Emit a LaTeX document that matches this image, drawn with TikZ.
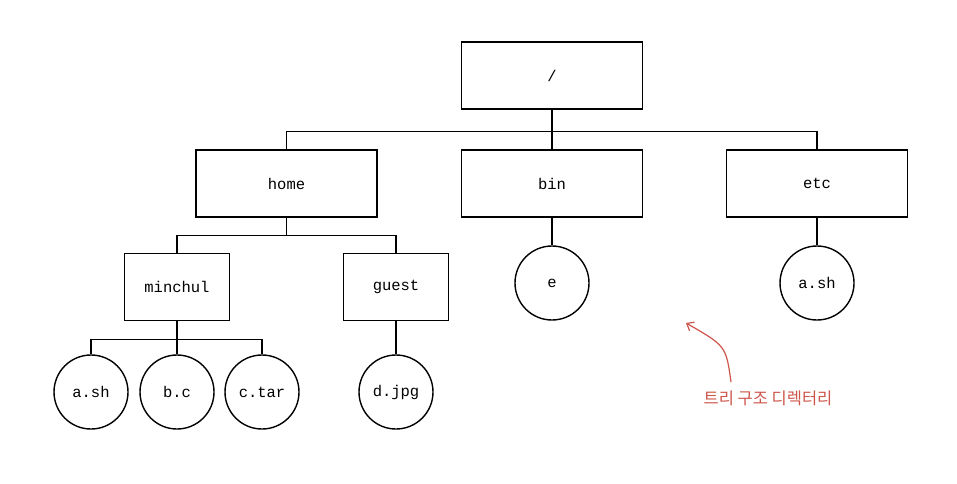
\documentclass[tikz,border=0pt]{standalone}
\usepackage{fontspec}
\setmainfont{Liberation Mono}
\newfontfamily\krfont{Noto Sans CJK KR}
\usetikzlibrary{arrows.meta,positioning}
\definecolor{notered}{RGB}{205,85,75}

\begin{document}
\begin{tikzpicture} [x=1pt, y=-1pt,
      dirbox/.style={draw, line width=1.4pt, minimum width=181pt, minimum height=67pt,
          font=\fontsize{15.5}{17}\selectfont},
      subbox/.style={dirbox, minimum width=105pt},
      filenode/.style={draw, circle, line width=1.4pt, minimum size=74pt, inner sep=0pt,
          font=\fontsize{15.5}{17}\selectfont},
      branch/.style={line width=1.4pt}]
      \useasboundingbox (0,0) rectangle (957,483);

      % directories
      \node[dirbox] (root) at (552,75.5) {/};
      \node[dirbox] (home) at (286.5,183.5) {home};
      \node[dirbox] (bin) at (552,183.5) {bin};
      \node[dirbox] (etc) at (817,183.5) {etc};
      \node[subbox] (minchul) at (177,287) {minchul};
      \node[subbox] (guest) at (396,287) {guest};

      % files
      \node[filenode] (e) at (552,283) {e};
      \node[filenode] (etcsh) at (817,283) {a.sh};
      \node[filenode] (ash) at (91,392) {a.sh};
      \node[filenode] (bc) at (177,392) {b.c};
      \node[filenode] (ctar) at (262,392) {c.tar};
      \node[filenode] (djpg) at (396,392) {d.jpg};

      % branches
      \draw[branch] (root.south) -- ++(0,21.5) coordinate (rootfork);
      \draw[branch] (home.north) |- (rootfork) -| (etc.north);
      \draw[branch] (rootfork) -- (bin.north);
      \draw[branch] (home.south) -- ++(0,18) coordinate (homefork);
      \draw[branch] (minchul.north) |- (homefork) -| (guest.north);
      \draw[branch] (minchul.south) -- ++(0,18) coordinate (minchulfork);
      \draw[branch] (ash.north) |- (minchulfork) -| (ctar.north);
      \draw[branch] (minchulfork) -- (bc.north);
      \draw[branch] (guest.south) -- (djpg.north);
      \draw[branch] (bin.south) -- (e.north);
      \draw[branch] (etc.south) -- (etcsh.north);

      % note
      \node[text=notered, font=\krfont\fontsize{16.5}{19}\selectfont] (note) at (768,398) {트리 구조 디렉터리};
      \coordinate (notetail) at (731,382);
      \coordinate (notehead) at (686,323);
      \draw[notered, line width=1.2pt, -{Straight Barb[length=6pt,width=10pt]}]
          (notetail) .. controls (726,346) .. (notehead);
\end{tikzpicture}
\end{document}
